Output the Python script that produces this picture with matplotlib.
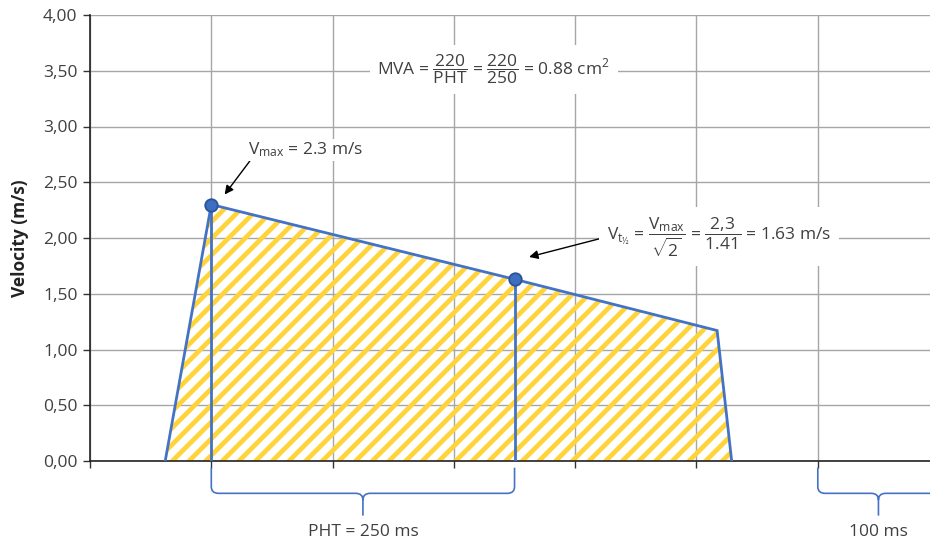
import matplotlib.pyplot as plt
from matplotlib.path import Path
from matplotlib.patches import PathPatch

plt.rcParams['font.family'] = ['Open Sans', 'DejaVu Sans']
plt.rcParams['mathtext.fontset'] = 'custom'
plt.rcParams['mathtext.rm'] = 'Open Sans'
plt.rcParams['mathtext.it'] = 'Open Sans:italic'
plt.rcParams['mathtext.bf'] = 'Open Sans:bold'
plt.rcParams['hatch.linewidth'] = 3.4

# doppler envelope (time in ms, velocity in m/s)
time_ms = [62, 100, 350, 517, 529]
velocity = [0.0, 2.3, 1.63, 1.17, 0.0]

vmax_t, vmax = 100, 2.3
vhalf_t, vhalf = 350, 1.63

yticks = [0, 0.5, 1.0, 1.5, 2.0, 2.5, 3.0, 3.5, 4.0]
ytick_labels = ['0,00', '0,50', '1,00', '1,50', '2,00', '2,50', '3,00', '3,50', '4,00']
xgrid = [0, 100, 200, 300, 400, 500, 600]

braces = [(100, 350, 'PHT = 250 ms'), (600, 700, '100 ms')]

blue = '#4472C4'
yellow = '#FFD43B'
txt = '#404040'

fig = plt.figure(figsize=(9.3, 5.45), dpi=100)
ax = fig.add_axes([90 / 930, 84 / 545, 840 / 930, 446 / 545])
ax.set_xlim(0, 692.5)
ax.set_ylim(0, 4)

ax.set_yticks(yticks)
ax.set_yticklabels(ytick_labels)
ax.set_xticks(xgrid)
ax.set_xticklabels([])
ax.tick_params(axis='both', direction='out', length=5, width=1, color='#333333',
               labelsize=12.5, labelcolor=txt)
ax.tick_params(axis='y', pad=4)
ax.grid(True, color='#A6A6A6', lw=1)
ax.set_axisbelow(True)
for s in ['top', 'right']:
    ax.spines[s].set_visible(False)
for s in ['left', 'bottom']:
    ax.spines[s].set_color('#222222')
    ax.spines[s].set_linewidth(1.2)
ax.set_ylabel('Velocity (m/s)', fontsize=12.5, fontweight='bold', color='#222222', labelpad=10)

# hatched area under the envelope
ax.fill(time_ms, velocity, facecolor='none', edgecolor=yellow, hatch='//', lw=0, zorder=2)
ax.plot(time_ms, velocity, color=blue, lw=2, zorder=3, solid_joinstyle='miter')
ax.plot([vmax_t, vmax_t], [0, vmax], color=blue, lw=2, zorder=3)
ax.plot([vhalf_t, vhalf_t], [0, vhalf], color=blue, lw=2, zorder=3)
ax.plot([vmax_t, vhalf_t], [vmax, vhalf], 'o', ms=9, mfc='#3D6EBF', mec='#2A5499', mew=1.3, zorder=4)


def arrow(rel):
    return dict(arrowstyle='-|>', color='black', lw=1, mutation_scale=13,
                shrinkA=0, shrinkB=0, relpos=rel)


ax.annotate('V$_{\\mathrm{max}}$ = 2.3 m/s', xy=(111, 2.39), xytext=(130, 2.79),
            fontsize=12.5, color=txt, ha='left', va='center', zorder=5,
            bbox=dict(boxstyle='square,pad=0.1', fc='white', ec='none'),
            arrowprops=arrow((0.03, 0.0)))

ax.annotate(r'V$_{\mathrm{t}_{½}}$ = $\dfrac{\mathrm{V}_{\mathrm{max}}}{\sqrt{2}}$ = '
            r'$\dfrac{2{,}3}{1.41}$ = 1.63 m/s',
            xy=(362, 1.83), xytext=(426, 2.01),
            fontsize=12.5, color=txt, ha='left', va='center', zorder=5,
            bbox=dict(boxstyle='square,pad=0.45', fc='white', ec='none'),
            arrowprops=arrow((0.0, 0.5)))

ax.text(237, 3.51, r'MVA = $\dfrac{220}{\mathrm{PHT}}$ = $\dfrac{220}{250}$ = 0.88 cm$^2$',
        fontsize=12.5, color=txt, ha='left', va='center', zorder=5,
        bbox=dict(boxstyle='square,pad=0.45', fc='white', ec='none'))


def brace(x0, x1, label):
    xc = (x0 + x1) / 2
    ytop, ymid, ytip = -0.06, -0.29, -0.49
    rx, ry = 6, 0.06
    verts = [(x0, ytop), (x0, ymid + ry), (x0, ymid), (x0 + rx, ymid),
             (xc - rx, ymid), (xc, ymid), (xc, ymid - ry), (xc, ytip),
             (xc, ymid - ry), (xc, ymid), (xc + rx, ymid),
             (x1 - rx, ymid), (x1, ymid), (x1, ymid + ry), (x1, ytop)]
    codes = [Path.MOVETO, Path.LINETO, Path.CURVE3, Path.CURVE3,
             Path.LINETO, Path.CURVE3, Path.CURVE3, Path.LINETO,
             Path.MOVETO, Path.CURVE3, Path.CURVE3,
             Path.LINETO, Path.CURVE3, Path.CURVE3, Path.LINETO]
    ax.add_patch(PathPatch(Path(verts, codes), fc='none', ec=blue, lw=1.2, clip_on=False))
    ax.text(xc, -0.64, label, fontsize=12.5, color=txt, ha='center', va='center', clip_on=False)


for x0, x1, label in braces:
    brace(x0, x1, label)

fig.savefig('out.png', dpi=100)
